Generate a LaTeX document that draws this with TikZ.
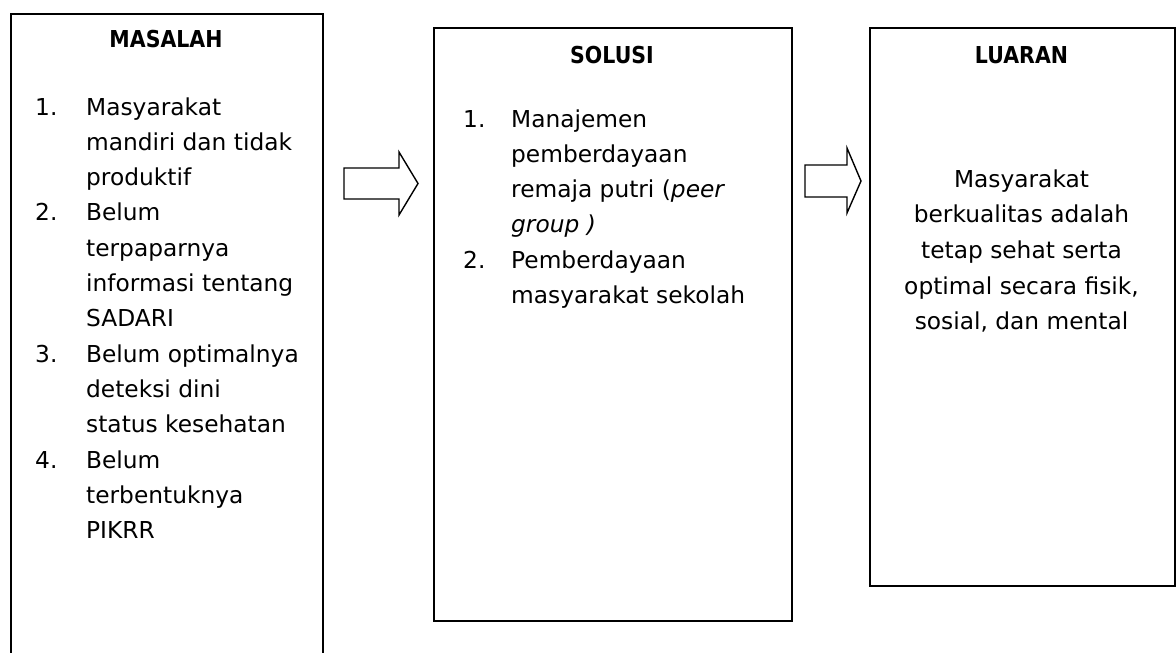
\documentclass[tikz,border=0pt]{standalone}
\usepackage{fontspec}
\setmainfont{DejaVu Sans}[BoldFeatures={FakeStretch=0.88}]
\usetikzlibrary{positioning}

\begin{document}
\begin{tikzpicture}[x=1pt,y=-1pt,
    panel/.style={draw=black,line width=1.8pt,anchor=north west,inner sep=0pt},
    head/.style={anchor=base,inner sep=0pt,
      font=\fontsize{23.3}{35.3}\selectfont\bfseries},
    body/.style={inner sep=0pt,font=\fontsize{23.3}{35.3}\selectfont},
    blk/.style={draw=black,line width=1.4pt,fill=white,line join=miter},
  ]
    \useasboundingbox (0,0) rectangle (1176,653);

    \node[panel,minimum width=312pt,minimum height=720pt](masalah) at (10,13) {};
    \node[panel,minimum width=358pt,minimum height=593pt](solusi) at (433,27) {};
    \node[panel,minimum width=305pt,minimum height=558pt](luaran) at (869,27) {};

    \node[head](tmasalah) at (166,47) {MASALAH};
    \node[head](tsolusi) at (612,63) {SOLUSI};
    \node[head](tluaran) at (1021.5,63) {LUARAN};

    \node[body,anchor=base west](lmasalah) at (35,115)
      {\begin{tabular}[t]{@{}p{51pt}@{}l@{}}
        1. & Masyarakat\\
           & mandiri dan tidak\\
           & produktif\\
        2. & Belum\\
           & terpaparnya\\
           & informasi tentang\\
           & SADARI\\
        3. & Belum optimalnya\\
           & deteksi dini\\
           & status kesehatan\\
        4. & Belum\\
           & terbentuknya\\
           & PIKRR
      \end{tabular}};
    \node[body,anchor=base west](lsolusi) at (463,127)
      {\begin{tabular}[t]{@{}p{48pt}@{}l@{}}
        1. & Manajemen\\
           & pemberdayaan\\
           & remaja putri (\textit{peer}\\
           & \textit{group )}\\
        2. & Pemberdayaan\\
           & masyarakat sekolah
      \end{tabular}};
    \node[body,anchor=base,font=\fontsize{23.3}{35.7}\selectfont](lluaran) at (1021.5,187)
      {\begin{tabular}[t]{@{}c@{}}
        Masyarakat\\
        berkualitas adalah\\
        tetap sehat serta\\
        optimal secara fisik,\\
        sosial, dan mental
      \end{tabular}};

    \draw[blk] (344,168) -- (399,168) -- (399,152) -- (418,183.5)
      -- (399,215) -- (399,199) -- (344,199) -- cycle;
    \draw[blk] (805,165) -- (847,165) -- (847,148) -- (861,181)
      -- (847,213) -- (847,197) -- (805,197) -- cycle;
  \end{tikzpicture}
\end{document}
